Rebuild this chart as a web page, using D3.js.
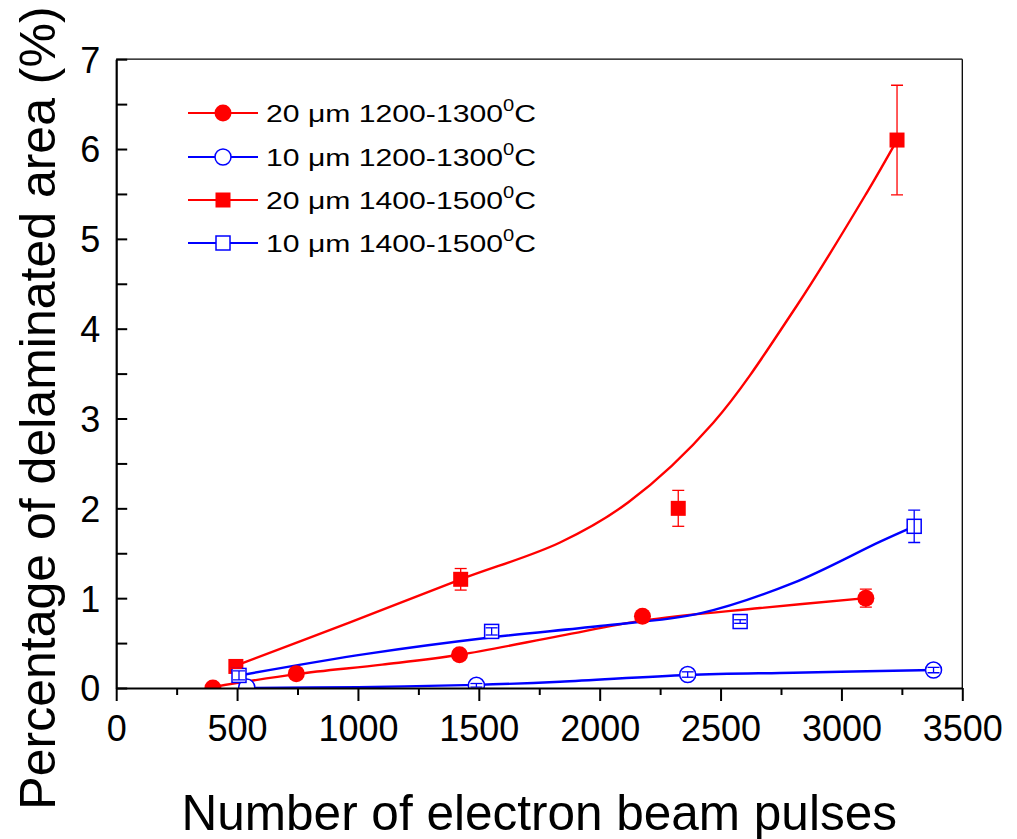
<!DOCTYPE html>
<html>
<head>
<meta charset="utf-8">
<script src="https://cdn.jsdelivr.net/npm/d3@7"></script>
<style>
  html, body { margin: 0; padding: 0; background: #fff; }
  svg { display: block; font-family: "Liberation Sans", Arial, sans-serif; }
</style>
</head>
<body>
<svg id="chart" width="1017" height="839"></svg>
<script>
// ---------------- data ----------------
const xTickValues = [0, 500, 1000, 1500, 2000, 2500, 3000, 3500];
const xMinorValues = [250, 750, 1250, 1750, 2250, 2750, 3250];
const yTickValues = [0, 1, 2, 3, 4, 5, 6, 7];
const yMinorValues = [0.5, 1.5, 2.5, 3.5, 4.5, 5.5, 6.5];

const seriesNames = [
  "20 \u03BCm 1200-1300",
  "10 \u03BCm 1200-1300",
  "20 \u03BCm 1400-1500",
  "10 \u03BCm 1400-1500"
];

// 20 um 1200-1300 C (red filled circles)
const a_x   = [400, 745, 1420, 2177, 3101];
const a_y   = [0.00, 0.16, 0.37, 0.80, 1.00];
const a_err = [0.00, 0.00, 0.02, 0.04, 0.10];
// 10 um 1200-1300 C (blue open circles)
const b_x   = [540, 1490, 2364, 3381];
const b_y   = [0.01, 0.03, 0.15, 0.20];
const b_err = [0.00, 0.02, 0.03, 0.03];
// 20 um 1400-1500 C (red filled squares)
const c_x   = [495, 1425, 2325, 3230];
const c_y   = [0.24, 1.21, 2.00, 6.10];
const c_err = [0.02, 0.12, 0.20, 0.61];
// 10 um 1400-1500 C (blue open squares)
const d_x   = [508, 1553, 2581, 3301];
const d_y   = [0.14, 0.63, 0.74, 1.80];
const d_err = [0.05, 0.04, 0.02, 0.18];

// fitted curves
const fitA_x = [400, 745, 1100, 1421, 1836, 2177, 2663, 3101];
const fitA_y = [0.01, 0.155, 0.26, 0.37, 0.58, 0.75, 0.89, 1.00];
const fitB_x = [540, 1000, 1490, 1836, 2364, 2801, 3381];
const fitB_y = [0.00, 0.01, 0.035, 0.07, 0.145, 0.17, 0.20];
const fitC_x = [495, 967, 1425, 1836, 2120, 2469, 2814, 3104, 3230];
const fitC_y = [0.25, 0.73, 1.21, 1.62, 2.07, 2.95, 4.25, 5.51, 6.10];
const fitD_x = [508, 1036, 1555, 2001, 2415, 2801, 3160, 3301];
const fitD_y = [0.14, 0.38, 0.565, 0.69, 0.83, 1.17, 1.63, 1.80];

const xTitle = "Number of electron beam pulses";
const yTitle = "Percentage of delaminated area (%)";

// ---------------- drawing ----------------
const RED = "#ff0000", BLUE = "#0000ff";
const svg = d3.select("#chart");
const L = 116.2, R = 962.3, T = 59.2, B = 688;
const x = d3.scaleLinear().domain([0, 3500]).range([L, R]);
const y = d3.scaleLinear().domain([0, 7]).range([B, T]);

const zip = (xs, ys, es) => xs.map((v, i) => ({x: v, y: ys[i], e: es ? es[i] : 0}));
const series = [
  {pts: zip(a_x, a_y, a_err), fit: zip(fitA_x, fitA_y), color: RED,  shape: "circle", filled: true},
  {pts: zip(b_x, b_y, b_err), fit: zip(fitB_x, fitB_y), color: BLUE, shape: "circle", filled: false},
  {pts: zip(c_x, c_y, c_err), fit: zip(fitC_x, fitC_y), color: RED,  shape: "square", filled: true},
  {pts: zip(d_x, d_y, d_err), fit: zip(fitD_x, fitD_y), color: BLUE, shape: "square", filled: false}
];

svg.append("defs").append("clipPath").attr("id", "plotclip")
  .append("rect").attr("x", L).attr("y", T).attr("width", R - L).attr("height", B - T);

// frame top/right
svg.append("line").attr("x1", L).attr("x2", R).attr("y1", T).attr("y2", T)
  .attr("stroke", "#000").attr("stroke-width", 1.3);
svg.append("line").attr("x1", R).attr("x2", R).attr("y1", T).attr("y2", B)
  .attr("stroke", "#000").attr("stroke-width", 1.3);

const plot = svg.append("g").attr("clip-path", "url(#plotclip)");

const line = d3.line().x(d => x(d.x)).y(d => y(d.y)).curve(d3.curveCatmullRom.alpha(0.5));

series.forEach(s => {
  plot.append("path").datum(s.fit).attr("d", line)
    .attr("fill", "none").attr("stroke", s.color).attr("stroke-width", 2.4);
});

function drawMarker(g, s, cx, cy) {
  if (s.shape === "circle") {
    g.append("circle").attr("cx", cx).attr("cy", cy).attr("r", s.filled ? 8.5 : 8)
      .attr("fill", s.filled ? s.color : "#fff")
      .attr("stroke", s.color).attr("stroke-width", s.filled ? 0 : 1.5);
  } else {
    const h = s.filled ? 7.5 : 7;
    g.append("rect").attr("x", cx - h).attr("y", cy - h).attr("width", 2 * h).attr("height", 2 * h)
      .attr("fill", s.filled ? s.color : "#fff")
      .attr("stroke", s.color).attr("stroke-width", s.filled ? 0 : 1.5);
  }
}

series.forEach(s => {
  s.pts.forEach(p => drawMarker(plot, s, x(p.x), y(p.y)));
});
// error bars
series.forEach(s => {
  s.pts.filter(p => p.e > 0).forEach(p => {
    const cx = x(p.x), y1 = y(p.y + p.e), y2 = y(p.y - p.e);
    const g = plot.append("g").attr("stroke", s.color).attr("stroke-width", 1.3).attr("fill", "none");
    g.append("line").attr("x1", cx).attr("x2", cx).attr("y1", y1).attr("y2", y2);
    g.append("line").attr("x1", cx - 6).attr("x2", cx + 6).attr("y1", y1).attr("y2", y1);
    g.append("line").attr("x1", cx - 6).attr("x2", cx + 6).attr("y1", y2).attr("y2", y2);
  });
});

// axes
svg.append("g").attr("transform", `translate(0,${B})`)
  .call(d3.axisBottom(x).tickValues(xTickValues).tickSize(13).tickSizeOuter(0).tickPadding(14).tickFormat(d3.format("d")));
svg.append("g").attr("transform", `translate(0,${B})`)
  .call(d3.axisBottom(x).tickValues(xMinorValues).tickSize(7).tickFormat(""))
  .call(g => g.select(".domain").remove());
const yAxis = svg.append("g").attr("transform", `translate(${L},0)`)
  .call(d3.axisLeft(y).tickValues(yTickValues).tickSize(-11).tickSizeOuter(0).tickPadding(16).tickFormat(d3.format("d")));
svg.append("g").attr("transform", `translate(${L},0)`)
  .call(d3.axisLeft(y).tickValues(yMinorValues).tickSize(-11).tickFormat(""))
  .call(g => g.select(".domain").remove());

svg.selectAll(".domain").attr("stroke", "#000").attr("stroke-width", 2.2);
svg.selectAll(".tick line").attr("stroke", "#000").attr("stroke-width", 2);
svg.selectAll(".tick text").attr("font-size", 36).attr("fill", "#000")
  .attr("font-family", "'Liberation Sans', Arial, sans-serif");
yAxis.selectAll(".tick text").attr("dy", "0.36em");

// titles
svg.append("text").attr("x", (L + R) / 2).attr("y", 830).attr("text-anchor", "middle")
  .attr("font-size", 49.5).attr("fill", "#000").text(xTitle);
svg.append("text").attr("transform", "translate(55,408) rotate(-90)").attr("text-anchor", "middle")
  .attr("font-size", 50).attr("fill", "#000").text(yTitle);

// legend
const legRows = [113, 157, 200, 243];
const legend = svg.append("g");
series.forEach((s, i) => {
  const ry = legRows[i];
  legend.append("line").attr("x1", 188).attr("x2", 258).attr("y1", ry).attr("y2", ry)
    .attr("stroke", s.color).attr("stroke-width", 2.2);
  drawMarker(legend, s, 223, ry);
  const t = legend.append("text").attr("font-size", 24).attr("fill", "#000")
    .attr("transform", `translate(266,${ry + 8.5})`);
  t.append("tspan").text(seriesNames[i]);
  t.append("tspan").attr("font-size", 16).attr("dy", -11).text("0");
  t.append("tspan").attr("dy", 11).text("C");
  const w = t.node().getComputedTextLength();
  t.attr("transform", `translate(266,${ry + 8.5}) scale(${270 / w},1)`);
});
</script>
</body>
</html>
